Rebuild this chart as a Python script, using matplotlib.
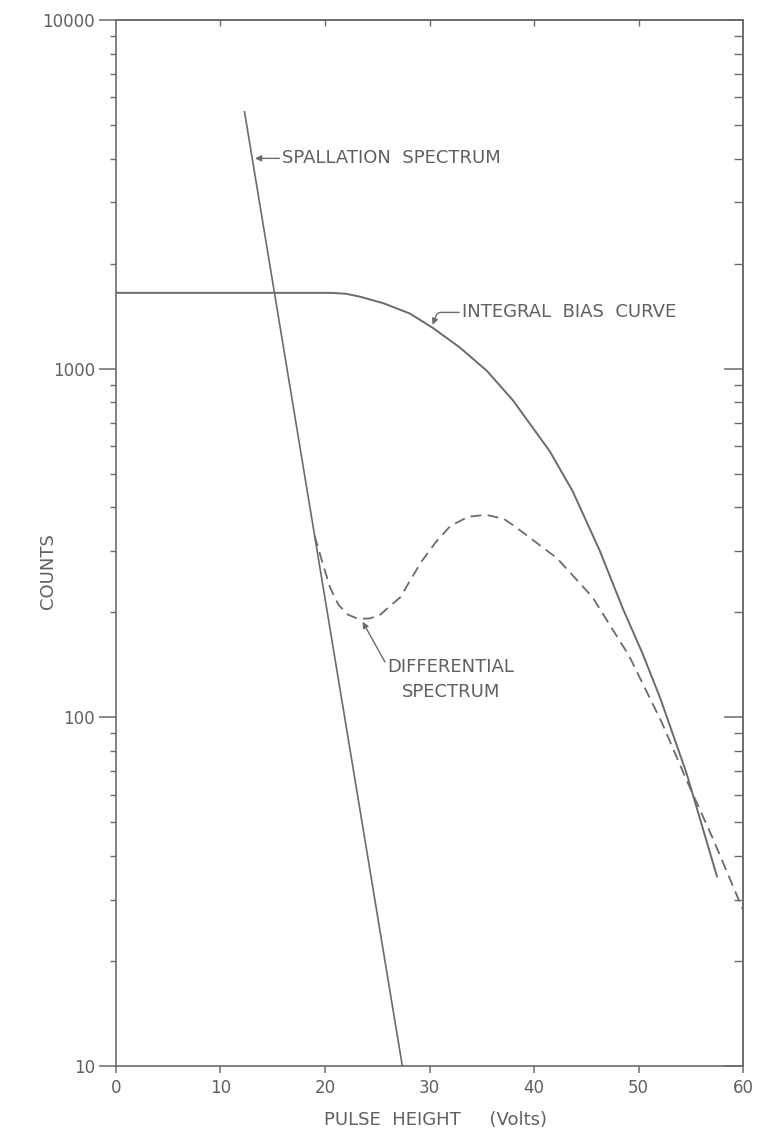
import matplotlib
matplotlib.use("Agg")
import matplotlib.pyplot as plt
import matplotlib.ticker as ticker

# values (pulse height in volts, counts)
spall_x = [12.3, 27.4]
spall_y = [5450, 10]

integral_x = [0, 20.5, 22.0, 23.3, 25.6, 28.1, 30.3, 32.9, 35.5, 38.0, 41.5,
              43.7, 46.3, 48.5, 50.4, 52.1, 54.6, 57.5]
integral_y = [1650, 1650, 1640, 1610, 1540, 1440, 1310, 1150, 985, 810, 580,
              445, 300, 205, 152, 113, 69, 35]

diff_x = [19.0, 19.8, 20.5, 21.3, 22.2, 23.1, 24.2, 25.2, 27.2, 29.2, 30.6, 32.0, 33.7,
          35.4, 37.1, 38.1, 42.2, 45.6, 49.1, 52.2, 54.7, 57.1, 60.0]
diff_y = [332, 275, 235, 210, 197, 192, 192, 196, 221, 279, 318, 354, 376,
          381, 371, 354, 286, 221, 150, 97, 65, 45, 28]

x_ticks = [0, 10, 20, 30, 40, 50, 60]
y_ticks = [10, 100, 1000, 10000]

INK = '#6b6b6b'
TXT = '#606060'

plt.rcParams['font.family'] = ['DejaVu Sans']

fig = plt.figure(figsize=(7.59, 11.36), dpi=100)
ax = fig.add_axes([0.1528, 0.0616, 0.8262, 0.9208])

ax.plot(spall_x, spall_y, color=INK, lw=1.2)
ax.plot(integral_x, integral_y, color=INK, lw=1.4)
ax.plot(diff_x, diff_y, color=INK, lw=1.3, linestyle=(0, (6, 3.5)))

ax.set_yscale('log')
ax.set_xlim(0, 60)
ax.set_ylim(10, 10000)

ax.set_xticks(x_ticks)
ax.set_yticks(y_ticks)
ax.yaxis.set_major_formatter(ticker.FuncFormatter(lambda v, _: f"{int(round(v))}"))
ax.yaxis.set_minor_locator(ticker.LogLocator(base=10, subs=range(2, 10)))
ax.yaxis.set_minor_formatter(ticker.NullFormatter())

ax.tick_params(axis='y', which='major', direction='out', length=12, width=1.1,
               color=INK, labelcolor=TXT, labelsize=12, pad=3)
ax.tick_params(axis='y', which='minor', direction='out', length=4.5, width=1.0, color=INK)
ax.tick_params(axis='x', which='major', direction='out', length=5, width=1.1,
               color=INK, labelcolor=TXT, labelsize=12, pad=4)

for s in ax.spines.values():
    s.set_color(INK)
    s.set_linewidth(1.2)

# inward ticks on the right and top edges
sec_y = ax.secondary_yaxis('right')
sec_y.set_yticks(y_ticks)
sec_y.yaxis.set_minor_locator(ticker.LogLocator(base=10, subs=range(2, 10)))
sec_y.yaxis.set_minor_formatter(ticker.NullFormatter())
sec_y.tick_params(which='major', direction='in', length=14, width=1.1, color=INK, labelright=False)
sec_y.tick_params(which='minor', direction='in', length=6.5, width=1.0, color=INK)
sec_y.spines['right'].set_color(INK)
sec_y.spines['right'].set_linewidth(1.2)

sec_x = ax.secondary_xaxis('top')
sec_x.set_xticks(x_ticks[1:-1])
sec_x.tick_params(direction='in', length=4, width=1.0, color=INK, labeltop=False)
sec_x.spines['top'].set_color(INK)
sec_x.spines['top'].set_linewidth(1.2)

ax.set_ylabel('COUNTS', color=TXT, fontsize=13)
ax.yaxis.set_label_coords(-0.094, 0.473)
ax.set_xlabel('PULSE  HEIGHT     (Volts)', color=TXT, fontsize=13)
ax.xaxis.set_label_coords(0.51, -0.043)

arrow = dict(arrowstyle='-|>', color=INK, lw=1.0, mutation_scale=9,
             shrinkA=0, shrinkB=0)

ax.annotate('SPALLATION  SPECTRUM', xy=(13.3, 4010), xytext=(15.9, 4010),
            color=TXT, fontsize=13, va='center', ha='left',
            arrowprops=arrow)

ax.annotate('INTEGRAL  BIAS  CURVE', xy=(30.3, 1335), xytext=(33.1, 1450),
            color=TXT, fontsize=13, va='center', ha='left',
            arrowprops=dict(arrow, connectionstyle='angle,angleA=0,angleB=70,rad=4'))

ax.annotate('DIFFERENTIAL\nSPECTRUM', xy=(23.6, 188), xytext=(26.0, 128),
            color=TXT, fontsize=13, va='center', ha='left', multialignment='center',
            linespacing=1.5, arrowprops=dict(arrow, relpos=(0, 0.8)))

fig.savefig('out.png', dpi=100)
